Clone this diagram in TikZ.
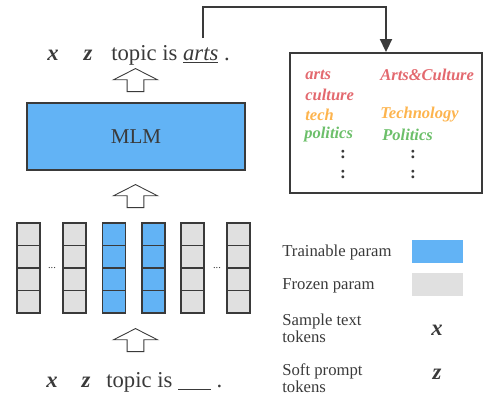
\documentclass[tikz,border=0pt]{standalone}
\usepackage{fontspec}
\setmainfont{Liberation Serif}
\usetikzlibrary{positioning,arrows.meta,shapes.arrows,calc}
\definecolor{azul}{HTML}{62B3F5}
\definecolor{gris}{HTML}{3A3A3A}
\definecolor{grisclaro}{HTML}{E0E0E0}
\definecolor{rojo}{HTML}{E3696F}
\definecolor{naranja}{HTML}{FDB44E}
\definecolor{verde}{HTML}{6CBF6A}
\newcommand{\tokx}{\textbf{\textit{x}}}
\newcommand{\tokz}{\textbf{\textit{z}}}

\begin{document}
\begin{tikzpicture}[x=0.02cm, y=-0.02cm, text=gris,
    font=\fontsize{12.9}{14}\selectfont,
    celda/.style={draw=gris, line width=0.6pt, minimum width=0.46cm,
                  minimum height=0.45cm, inner sep=0pt},
    flecha/.style={single arrow, draw=gris, fill=white, line width=0.5pt,
                   shape border rotate=90, minimum width=0.86cm, minimum height=0.46cm,
                   single arrow head extend=0.27cm, single arrow tip angle=126,
                   inner xsep=0.16cm, inner ysep=0pt, anchor=tail},
    clase/.style={font=\fontsize{9.4}{10}\selectfont\bfseries\itshape, anchor=west, inner sep=0pt},
    leyenda/.style={font=\fontsize{9.5}{9.8}\selectfont, anchor=west, align=left, inner sep=0pt},
    conector/.style={draw=gris, line width=1.1pt, -{Triangle[length=2.6mm, width=2.4mm]}}]
  \useasboundingbox (0,0) rectangle (484,396);

  % salida del modelo
  \node[anchor=base, inner sep=0pt] (xsal) at (53,60) {\tokx};
  \node[anchor=base, inner sep=0pt] (zsal) at (88,60) {\tokz};
  \node[anchor=base west, inner sep=0pt] (frasesal) at (111,60) {topic is \underline{\textit{arts}} .};
  \coordinate (arts) at (203,38);

  \node[flecha] (f1) at (135.5,92) {};

  % modelo
  \node[draw=gris, line width=1.1pt, fill=azul, minimum width=4.36cm, minimum height=1.34cm,
        font=\fontsize{12}{14}\selectfont] (mlm) at (136,136.5) {MLM};

  \node[flecha] (f2) at (135.5,208) {};

  % parametros
  \foreach \cx/\relleno [count=\i] in {28.5/grisclaro, 74.5/grisclaro, 114/azul,
                                       153.5/azul, 192.5/grisclaro, 238.5/grisclaro} {
    \foreach \f in {0,...,3}
      \node[celda, fill=\relleno] (c\i-\f) at (\cx,234.25+22.5*\f) {};
  }
  \node[font=\fontsize{6}{6}\selectfont] (p1) at (52,268) {...};
  \node[font=\fontsize{6}{6}\selectfont] (p2) at (217,268) {...};

  \node[flecha] (f3) at (135.5,352) {};

  % entrada
  \node[anchor=base, inner sep=0pt] (xent) at (52,387) {\tokx};
  \node[anchor=base, inner sep=0pt] (zent) at (86,387) {\tokz};
  \node[anchor=base west, inner sep=0pt] (fraseent) at (106,387) {topic is \underline{\hspace{1.45em}} .};

  % verbalizador
  \node[draw=gris, line width=1.1pt, minimum width=3.84cm, minimum height=2.8cm,
        inner sep=0pt] (clases) at (386,123) {};
  \node[clase, text=rojo] (a1) at (305,75) {arts};
  \node[clase, text=rojo] (a2) at (305,95) {culture};
  \node[clase, text=naranja] (a3) at (305,115) {tech};
  \node[clase, text=verde] (a4) at (304,135) {politics};
  \node[clase, text=rojo] (b1) at (380,75) {Arts\&Culture};
  \node[clase, text=naranja] (b3) at (380,115) {Technology};
  \node[clase, text=verde] (b4) at (382,135) {Politics};
  \foreach \px in {343,413}
    \foreach \py in {155,175}
      \node[inner sep=0pt, font=\fontsize{10}{10}\selectfont\bfseries] at (\px,\py) {:};

  \draw[conector] (arts) -- ++(0,-31) -| (clases.north);

  % leyenda
  \node[leyenda] (l1) at (282,252) {Trainable param};
  \node[fill=azul, minimum width=1.02cm, minimum height=0.46cm, inner sep=0pt] (m1) at (437.5,251.5) {};
  \node[leyenda] (l2) at (282,286) {Frozen param};
  \node[fill=grisclaro, minimum width=1.02cm, minimum height=0.46cm, inner sep=0pt] (m2) at (437.5,284.5) {};
  \node[leyenda] (l3) at (282,328) {Sample text\\tokens};
  \node[inner sep=0pt] (m3) at (437,330) {\tokx};
  \node[leyenda] (l4) at (282,378) {Soft prompt\\tokens};
  \node[inner sep=0pt] (m4) at (437,374) {\tokz};
\end{tikzpicture}
\end{document}
